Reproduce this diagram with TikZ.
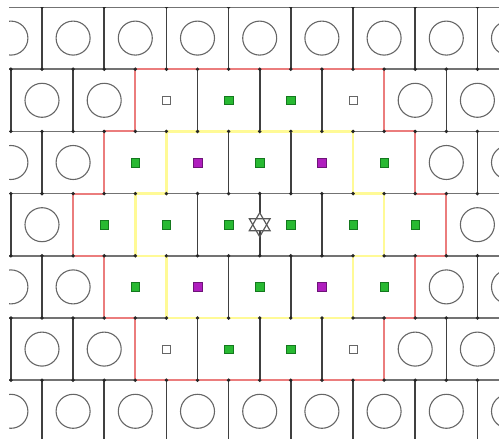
\documentclass[tikz,border=0pt]{standalone}
\usetikzlibrary{calc}
\definecolor{gfill}{RGB}{40,185,50}
\definecolor{gdraw}{RGB}{20,120,30}
\definecolor{mfill}{RGB}{175,30,190}
\definecolor{mdraw}{RGB}{110,20,120}
\definecolor{redb}{RGB}{235,125,125}
\definecolor{yelb}{RGB}{255,250,150}
\begin{document}
\begin{tikzpicture}[x=1pt,y=-1pt,
  hline/.style={draw=black!55,line width=1.6pt},
  vline/.style={draw=black!75,line width=1.6pt},
  jdot/.style={fill=black!85},
  ring/.style={circle,draw=black!60,line width=1.1pt,minimum size=34pt,inner sep=0pt},
  gsq/.style={rectangle,fill=gfill,draw=gdraw,line width=0.4pt,minimum size=8.5pt,inner sep=0pt},
  msq/.style={rectangle,fill=mfill,draw=mdraw,line width=0.4pt,minimum size=8.5pt,inner sep=0pt},
  osq/.style={rectangle,fill=white,draw=black!60,line width=1pt,minimum size=8pt,inner sep=0pt},
  redline/.style={draw=redb,line width=2pt},
  yelline/.style={draw=yelb,line width=2.6pt},
  starline/.style={draw=black!65,line width=1.2pt,fill=white,line join=miter}]
\useasboundingbox (0,0) rectangle (499,439);
\begin{scope}
\clip (9,7) rectangle (499,439);
% horizontal grid lines
\foreach \r in {0,...,7}{
  \draw[hline] (0,{7+62.2*\r}) -- (520,{7+62.2*\r});
}
% vertical grid lines
\foreach \r in {0,...,6}{
  \pgfmathsetmacro{\rp}{mod(\r+1,2)}
  \pgfmathsetmacro{\ytop}{7+62.2*\r}
  \pgfmathsetmacro{\ybot}{7+62.2*(\r+1)}
  \foreach \k in {-1,...,8}{
    \pgfmathsetmacro{\xv}{10.9+31.1*(2*\k+\rp)}
    \draw[vline] (\xv,\ytop) -- (\xv,\ybot);
  }
}
% boundaries
\draw[redline] (135.3,69.2) -- (384.1,69.2) -- (384.1,131.4) -- (415.2,131.4) -- (415.2,193.6) -- (446.3,193.6) -- (446.3,255.8) -- (415.2,255.8) -- (415.2,318) -- (384.1,318) -- (384.1,380.2) -- (135.3,380.2) -- (135.3,318) -- (104.2,318) -- (104.2,255.8) -- (73.1,255.8) -- (73.1,193.6) -- (104.2,193.6) -- (104.2,131.4) -- (135.3,131.4) -- cycle;
\draw[yelline] (166.4,131.4) -- (353,131.4) -- (353,193.6) -- (384.1,193.6) -- (384.1,255.8) -- (353,255.8) -- (353,318) -- (166.4,318) -- (166.4,255.8) -- (135.3,255.8) -- (135.3,193.6) -- (166.4,193.6) -- cycle;
% junction dots
\foreach \r in {0,...,6}{
  \pgfmathsetmacro{\rp}{mod(\r+1,2)}
  \pgfmathsetmacro{\ytop}{7+62.2*\r}
  \pgfmathsetmacro{\ybot}{7+62.2*(\r+1)}
  \foreach \k in {-1,...,8}{
    \pgfmathsetmacro{\xv}{10.9+31.1*(2*\k+\rp)}
    \fill[jdot] (\xv,\ytop) circle (1.9pt);
    \fill[jdot] (\xv,\ybot) circle (1.9pt);
  }
}
% row 0 and row 6 (even rows): all rings
\foreach \i in {0,...,8}{
  \node[ring] (c0-\i) at ({10.9+62.2*\i},38.1) {};
  \node[ring] (c6-\i) at ({10.9+62.2*\i},411.3) {};
}
% rows 1 and 5 (odd rows)
\foreach \i/\t in {0/ring,1/ring,2/osq,3/gsq,4/gsq,5/osq,6/ring,7/ring}{
  \node[\t] (c1-\i) at ({42+62.2*\i},100.3) {};
  \node[\t] (c5-\i) at ({42+62.2*\i},349.1) {};
}
% rows 2 and 4 (even rows)
\foreach \i/\t in {0/ring,1/ring,2/gsq,3/msq,4/gsq,5/msq,6/gsq,7/ring,8/ring}{
  \node[\t] (c2-\i) at ({10.9+62.2*\i},162.5) {};
  \node[\t] (c4-\i) at ({10.9+62.2*\i},286.9) {};
}
% row 3 (odd row)
\foreach \i/\t in {0/ring,1/gsq,2/gsq,3/gsq,4/gsq,5/gsq,6/gsq,7/ring}{
  \node[\t] (c3-\i) at ({42+62.2*\i},224.7) {};
}
% centre star
\coordinate (ctr) at (259.7,224.7);
\draw[starline] ($(ctr)+(0,-12)$) -- ($(ctr)+(10.39,6)$) -- ($(ctr)+(-10.39,6)$) -- cycle;
\draw[starline,fill=none] ($(ctr)+(0,12)$) -- ($(ctr)+(10.39,-6)$) -- ($(ctr)+(-10.39,-6)$) -- cycle;
\end{scope}
\end{tikzpicture}
\end{document}
